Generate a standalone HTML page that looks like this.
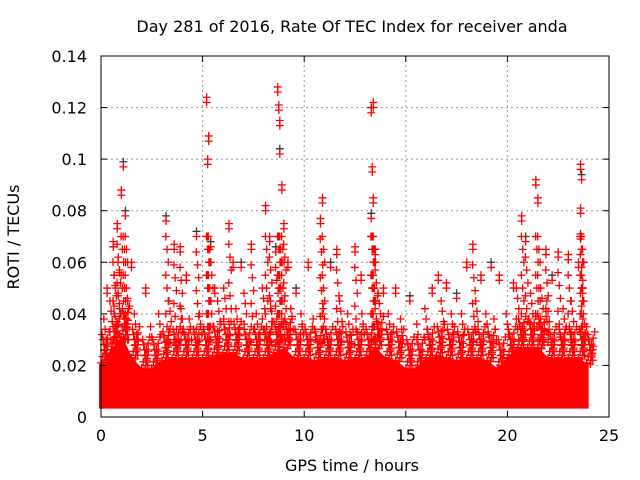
<!DOCTYPE html>
<html><head><meta charset="utf-8">
<style>
html,body{margin:0;padding:0;background:#fff;}
svg{display:block;font-family:"DejaVu Sans","Liberation Sans",sans-serif;}
</style></head>
<body>
<svg id="chart" width="640" height="480" viewBox="0 0 640 480">
<text x="352" y="32" font-size="16" text-anchor="middle" fill="#000">Day 281 of 2016, Rate Of TEC Index for receiver anda</text>
<text x="352" y="471" font-size="16" text-anchor="middle">GPS time / hours</text>
<text transform="translate(19,237) rotate(-90)" font-size="16" text-anchor="middle">ROTI / TECUs</text>
<g id="grid"></g>
<g id="band"></g>
<g id="pts"></g>
<rect x="101" y="56" width="508" height="361" fill="none" stroke="#000" stroke-width="1"/>
<g id="ticks"></g>
</svg>
<script>
const xTicks=[0,5,10,15,20,25];
const yTicks=[0,0.02,0.04,0.06,0.08,0.1,0.12,0.14];
const yTickLabels=["0","0.02","0.04","0.06","0.08","0.1","0.12","0.14"];
const bandHours=[0,0.5,1,1.5,2,2.5,3,3.5,4,4.5,5,5.5,6,6.5,7,7.5,8,8.5,9,9.5,10,10.5,11,11.5,12,12.5,13,13.5,14,14.5,15,15.5,16,16.5,17,17.5,18,18.5,19,19.5,20,20.5,21,21.5,22,22.5,23,23.5,23.9];
const bandTop=[0.02,0.025,0.03,0.022,0.018,0.018,0.021,0.022,0.022,0.022,0.022,0.023,0.024,0.024,0.022,0.022,0.022,0.024,0.026,0.022,0.022,0.021,0.022,0.022,0.021,0.022,0.022,0.026,0.022,0.021,0.018,0.018,0.022,0.023,0.022,0.021,0.022,0.022,0.021,0.018,0.022,0.026,0.026,0.026,0.022,0.022,0.022,0.022,0.02];
const bandBottom=0.004;
const peakX=[1.1,1.0,0.8,0.6,1.2,0.3,1.5,2.2,3.2,3.6,3.9,4.2,4.7,5.2,5.3,5.25,5.4,5.6,6.3,6.5,6.9,7.4,8.1,8.3,8.6,8.7,8.75,8.8,8.8,8.9,9.0,9.2,9.6,10.2,10.9,10.8,11.3,11.6,12.5,12.8,13.3,13.4,13.35,13.4,13.3,13.5,13.9,14.5,15.2,16.3,16.6,17.0,17.5,18.0,18.3,18.7,19.2,19.6,20.3,20.7,20.9,21.4,21.5,21.9,22.2,22.5,23.0,23.6,23.65,23.6,23.6,23.5,23.7];
const peakY=[0.099,0.088,0.075,0.068,0.08,0.05,0.06,0.05,0.078,0.067,0.066,0.055,0.072,0.124,0.109,0.1,0.068,0.05,0.075,0.06,0.06,0.067,0.082,0.07,0.066,0.128,0.121,0.115,0.104,0.09,0.075,0.06,0.05,0.06,0.085,0.077,0.06,0.065,0.066,0.055,0.12,0.122,0.097,0.085,0.079,0.065,0.05,0.05,0.047,0.05,0.055,0.052,0.048,0.06,0.067,0.055,0.06,0.055,0.052,0.078,0.07,0.092,0.085,0.065,0.055,0.064,0.063,0.098,0.094,0.081,0.071,0.06,0.05];
const midX=[0.2,0.5,0.7,0.9,1.3,1.7,2.5,2.9,3.4,4.0,4.4,4.9,5.8,6.1,6.7,7.1,7.7,8.0,8.4,9.4,9.9,10.5,11.0,11.8,12.2,12.9,13.7,14.2,14.8,15.6,16.0,16.8,17.3,17.8,18.5,19.0,19.4,20.0,20.5,21.2,21.7,22.0,22.8,23.2,23.8];
const midY=[0.038,0.045,0.055,0.06,0.05,0.04,0.035,0.04,0.045,0.042,0.038,0.04,0.045,0.05,0.042,0.048,0.04,0.05,0.045,0.042,0.04,0.038,0.042,0.045,0.04,0.04,0.048,0.04,0.038,0.036,0.042,0.045,0.04,0.04,0.045,0.04,0.038,0.04,0.05,0.048,0.05,0.045,0.042,0.045,0.04];

const NS="http://www.w3.org/2000/svg";
const X0=101,X1=609,Y0=417,Y1=56;
const xs=v=>X0+(v-0)/25*(X1-X0);
const ys=v=>Y0-(v/0.14)*(Y0-Y1);
function mk(tag,attrs,parent){const e=document.createElementNS(NS,tag);for(const k in attrs)e.setAttribute(k,attrs[k]);parent.appendChild(e);return e;}
const grid=document.getElementById('grid'),ticks=document.getElementById('ticks');
xTicks.forEach((t,i)=>{
  const x=xs(t);
  if(i>0&&i<xTicks.length-1){const g=mk('line',{x1:x,x2:x,y1:Y0,y2:Y1,stroke:'#999','stroke-dasharray':'2,3'},grid);
  
  }
  mk('line',{x1:x,x2:x,y1:Y0,y2:Y0-6,stroke:'#000'},ticks);
  mk('line',{x1:x,x2:x,y1:Y1,y2:Y1+6,stroke:'#000'},ticks);
  const l=mk('text',{x:x,y:Y0+24,'font-size':16,'text-anchor':'middle'},ticks);l.textContent=t;
  
  
});
yTicks.forEach((t,i)=>{
  const y=ys(t);
  if(i>0&&i<yTicks.length-1){const g=mk('line',{x1:X0,x2:X1,y1:y,y2:y,stroke:'#999','stroke-dasharray':'2,3'},grid);
  
  }
  mk('line',{x1:X0,x2:X0+6,y1:y,y2:y,stroke:'#000'},ticks);
  mk('line',{x1:X1,x2:X1-6,y1:y,y2:y,stroke:'#000'},ticks);
  const l=mk('text',{x:X0-14,y:y+6,'font-size':16,'text-anchor':'end'},ticks);l.textContent=yTickLabels[i];
  
  
});
let d='M'+xs(bandHours[0])+','+ys(bandBottom);
bandHours.forEach((h,i)=>{d+=' L'+xs(h)+','+ys(bandTop[i]);});
d+=' L'+xs(bandHours[bandHours.length-1])+','+ys(bandBottom)+' Z';
const band=mk('path',{d:d,fill:'#f00',stroke:'#f00','stroke-width':4},document.getElementById('band'));


const pts=document.getElementById('pts');
function plus(x,y,c){const g=mk('path',{d:`M${x-4},${y}h8M${x},${y-4}v8`,stroke:c,'stroke-width':1.3},pts);
  
  }
bandHours.forEach((h,i)=>{
  for(let k=0;k<6;k++){
    plus(xs(h+0.08*k),ys(bandTop[i]+0.001+0.0024*k),'#f00');
    plus(xs(h+0.3-0.05*k),ys(bandTop[i]+0.002+0.002*k),'#f00');
    plus(xs(h+0.18+0.03*k),ys(bandTop[i]+0.0005+0.0014*k),'#f00');
  }
});
function spike(hx,hy,step){
  let j=0;
  for(let v=hy;v>0.028;v-=step){plus(xs(hx+((j%3)-1)*0.06),ys(v),'#f00');j++;}
}
midX.forEach((h,i)=>spike(h,midY[i],0.004));
peakX.forEach((h,i)=>{plus(xs(h),ys(peakY[i]),i%4===0?'#333':'#f00');plus(xs(h),ys(peakY[i]-0.002),'#f00');});
peakX.forEach((h,i)=>{ if(peakY[i]>0.06) spike(h+0.05,Math.min(peakY[i]-0.008,0.07),0.005);});
</script>
</body></html>
